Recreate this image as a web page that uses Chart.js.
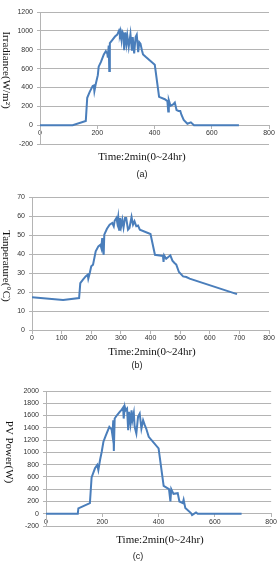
<!DOCTYPE html>
<html>
<head>
<meta charset="utf-8">
<script src="https://cdn.jsdelivr.net/npm/chart.js@4/dist/chart.umd.min.js"></script>
<style>
  body { margin: 0; background: #fff; width: 278px; height: 561px; position: relative; overflow: hidden; }
  canvas { position: absolute; left: 0; }
  .t { position: absolute; font-family: "Liberation Serif", "DejaVu Serif", serif; font-size: 11px; color: #111; white-space: nowrap; transform: translate(-50%, -50%); }
  .ty { transform: translate(-50%, -50%) rotate(90deg); }
  .cap { position: absolute; font-family: "Liberation Sans", Arial, sans-serif; font-size: 9px; color: #222; transform: translate(-50%, -50%); }
</style>
</head>
<body>
<canvas id="chartA" width="278" height="180" style="top:0px"></canvas>
<canvas id="chartB" width="278" height="175" style="top:185px"></canvas>
<canvas id="chartC" width="278" height="160" style="top:375px"></canvas>

<div class="t ty" style="left:7px;top:70px">Irradiance(W/m²)</div>
<div class="t" style="left:142px;top:156px">Time:2min(0~24hr)</div>
<div class="cap" style="left:142px;top:174px">(a)</div>

<div class="t ty" style="left:7px;top:266px">Tanperature(°C)</div>
<div class="t" style="left:152px;top:351px">Time:2min(0~24hr)</div>
<div class="cap" style="left:137px;top:365px">(b)</div>

<div class="t ty" style="left:10px;top:452px">PV Power(W)</div>
<div class="t" style="left:160px;top:539px">Time:2min(0~24hr)</div>
<div class="cap" style="left:138px;top:556px">(c)</div>

<script>
// (a) irradiance, W/m2
const irrX = [0, 114, 160, 165, 174, 184, 188, 190, 195, 202, 205, 213, 223, 230, 235, 237, 240, 242, 244, 253, 262, 270, 276, 279, 281, 285, 288, 292, 294, 298, 302, 305, 310, 316, 321, 324, 329, 334, 338, 343, 347, 351, 356, 360, 369, 401, 416, 436, 445, 448, 450, 456, 465, 471, 477, 484, 490, 494, 502, 515, 527, 538, 695];
const irrY = [0, 0, 45, 290, 355, 415, 420, 360, 440, 530, 620, 670, 750, 785, 760, 715, 845, 575, 870, 905, 940, 960, 1003, 967, 995, 900, 990, 965, 795, 985, 865, 950, 830, 965, 790, 935, 760, 935, 960, 775, 880, 865, 795, 750, 725, 640, 300, 275, 255, 145, 265, 205, 220, 240, 160, 150, 150, 110, 55, 15, 30, 0, 0];

// (b) module temperature, C
const tempX = [0, 105, 159, 163, 172, 181, 188, 190, 195, 200, 206, 215, 224, 231, 234, 237, 240, 242, 244, 253, 262, 271, 276, 279, 285, 288, 291, 294, 297, 301, 305, 309, 314, 318, 324, 329, 336, 341, 346, 352, 358, 364, 400, 415, 442, 444, 446, 453, 467, 474, 481, 487, 496, 510, 521, 532, 692];
const tempY = [17.2, 15.8, 16.8, 24.7, 26.5, 28.2, 29.1, 27, 30, 33.5, 34.4, 41.4, 44, 44.9, 43.2, 48.4, 41.4, 39.6, 50.2, 53.3, 55.4, 56.3, 54.6, 57.5, 59, 56.3, 59.5, 52.8, 59, 54.6, 58, 54, 59, 59, 52.8, 53.7, 59.5, 55.4, 57.2, 54.6, 55, 52.8, 50.5, 39.6, 39, 35.8, 39.3, 37.5, 39.3, 36.5, 35.3, 34.4, 30.5, 28.2, 27.9, 27, 18.9];

// (c) PV power, W
const powX = [0, 113, 115, 156, 162, 174, 182, 186, 192, 198, 204, 213, 225, 233, 236, 239, 241, 244, 252, 262, 269, 274, 276, 280, 283, 288, 292, 295, 300, 304, 307, 312, 315, 321, 327, 333, 339, 345, 351, 356, 365, 400, 418, 437, 442, 445, 453, 468, 474, 486, 489, 495, 515, 519, 533, 539, 695];
const powY = [0, 0, 86, 173, 590, 740, 795, 713, 875, 1010, 1173, 1280, 1416, 1373, 1280, 1524, 1022, 1551, 1605, 1660, 1697, 1730, 1551, 1741, 1686, 1713, 1362, 1660, 1470, 1686, 1524, 1643, 1416, 1308, 1578, 1632, 1389, 1524, 1443, 1389, 1254, 1065, 454, 400, 200, 400, 324, 335, 200, 173, 227, 92, 10, -22, 22, 0, 0];

const lineColor = '#4a7ebb';
const gridColor = '#b4b4b4';
const tickFont = { family: 'Liberation Sans, Arial, sans-serif', size: 7 };

function makeChart(id, xs, ys, opt) {
    const pts = xs.map((x, i) => ({ x: x, y: ys[i] }));
    return new Chart(document.getElementById(id), {
        type: 'line',
        data: {
            datasets: [{
                data: pts,
                borderColor: lineColor,
                borderWidth: 2,
                pointRadius: 0,
                tension: 0,
                fill: false
            }]
        },
        options: {
            responsive: false,
            animation: false,
            layout: { padding: opt.pad },
            plugins: { legend: { display: false }, tooltip: { enabled: false } },
            scales: {
                x: {
                    type: 'linear',
                    position: { y: 0 },
                    min: 0, max: 800,
                    ticks: { stepSize: opt.xStep, color: '#333', font: tickFont, padding: 1, maxRotation: 0, callback: v => String(v) },
                    grid: { drawOnChartArea: false, drawTicks: true, tickLength: 3, color: gridColor },
                    border: { display: true, color: gridColor, width: 1 }
                },
                y: {
                    min: opt.yMin, max: opt.yMax,
                    ticks: { stepSize: opt.yStep, color: '#333', font: tickFont, padding: 4, callback: v => String(v) },
                    grid: { color: gridColor, tickLength: 3, lineWidth: 1 },
                    border: { display: true, color: gridColor },
                    afterFit: (s) => { s.width = opt.yw; }
                }
            }
        }
    });
}

makeChart('chartA', irrX, irrY, { xStep: 200, yMin: -200, yMax: 1200, yStep: 200, yw: 40, pad: { top: 12, right: 9, bottom: 36, left: 0 } });
makeChart('chartB', tempX, tempY, { xStep: 100, yMin: 0, yMax: 70, yStep: 10, yw: 32, pad: { top: 12, right: 9, bottom: 30, left: 0 } });
makeChart('chartC', powX, powY, { xStep: 200, yMin: -200, yMax: 2000, yStep: 200, yw: 46, pad: { top: 16, right: 6, bottom: 9, left: 0 } });
</script>
</body>
</html>
